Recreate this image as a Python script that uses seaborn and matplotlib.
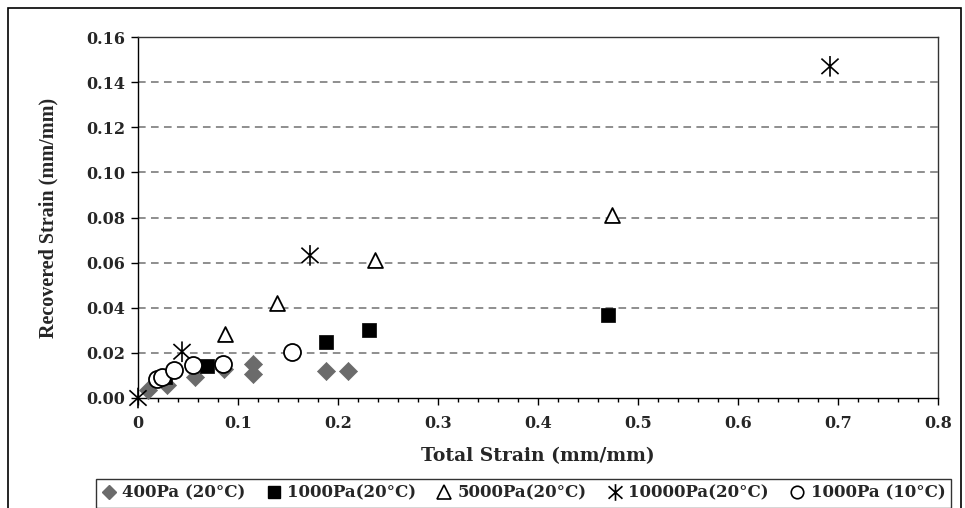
import numpy as np
import pandas as pd
import matplotlib
matplotlib.use("Agg")
import matplotlib.pyplot as plt
from matplotlib.path import Path
from matplotlib.patches import Rectangle
from matplotlib.lines import Line2D
import seaborn as sns

# ---- data ----
x_400 = [0.010, 0.029, 0.057, 0.086, 0.115, 0.115, 0.188, 0.210]
y_400 = [0.0035, 0.0058, 0.0093, 0.0129, 0.0151, 0.0106, 0.0120, 0.0120]

x_1000 = [0.027, 0.069, 0.188, 0.231, 0.470]
y_1000 = [0.0093, 0.0140, 0.0248, 0.0300, 0.0370]

x_5000 = [0.087, 0.139, 0.237, 0.474]
y_5000 = [0.0285, 0.0420, 0.0610, 0.0810]

x_10000 = [0.000, 0.044, 0.172, 0.692]
y_10000 = [0.000, 0.0205, 0.0632, 0.1470]

x_1000c = [0.019, 0.024, 0.036, 0.055, 0.085, 0.154]
y_1000c = [0.0084, 0.0093, 0.0124, 0.0146, 0.0151, 0.0204]

labels = ["400Pa (20°C)", "1000Pa(20°C)", "5000Pa(20°C)", "10000Pa(20°C)", "1000Pa (10°C)"]
x_ticks = [0, 0.1, 0.2, 0.3, 0.4, 0.5, 0.6, 0.7, 0.8]
x_ticklabels = ["0", "0.1", "0.2", "0.3", "0.4", "0.5", "0.6", "0.7", "0.8"]
y_ticks = [0.00, 0.02, 0.04, 0.06, 0.08, 0.10, 0.12, 0.14, 0.16]

sns.set_style("white")
plt.rcParams['font.family'] = ['DejaVu Serif', 'DejaVu Sans']
plt.rcParams['font.weight'] = 'bold'

# Excel-like star: X plus vertical line
star = Path([(-0.5, -0.45), (0.5, 0.45), (-0.5, 0.45), (0.5, -0.45), (0, -0.6), (0, 0.6)],
            [Path.MOVETO, Path.LINETO, Path.MOVETO, Path.LINETO, Path.MOVETO, Path.LINETO])

fig = plt.figure(figsize=(9.65, 5.08), dpi=100)
ax = fig.add_axes([138/965, 1 - 398/508, 800/965, 361/508])

frames = [
    (x_400, y_400, dict(marker="D", s=85, color="#6b6b6b", edgecolor="#6b6b6b", linewidth=0.5)),
    (x_1000, y_1000, dict(marker="s", s=90, color="black", edgecolor="black", linewidth=0.5)),
    (x_5000, y_5000, dict(marker="^", s=115, facecolor="white", edgecolor="black", linewidth=1.3)),
    (x_10000, y_10000, dict(marker=star, s=220, facecolor="none", edgecolor="black", linewidth=1.2)),
    (x_1000c, y_1000c, dict(marker="o", s=150, facecolor="white", edgecolor="black", linewidth=1.3)),
]
for i, (xs, ys, kw) in enumerate(frames):
    df = pd.DataFrame({"x": xs, "y": ys})
    sns.scatterplot(data=df, x="x", y="y", ax=ax, legend=False, zorder=3 + (1 if i == 4 else 0),
                    clip_on=False, **kw)

ax.set_xlim(0, 0.8)
ax.set_ylim(0, 0.16)
ax.set_xticks(x_ticks)
ax.set_xticklabels(x_ticklabels)
ax.set_yticks(y_ticks)
ax.set_yticklabels([f"{v:.2f}" for v in y_ticks])
ax.set_xticks(np.arange(0, 0.8001, 0.02), minor=True)
for yv in y_ticks[1:-1]:
    ax.axhline(yv, color="#707070", linestyle=(0, (5, 3.5)), linewidth=1.1, zorder=1)

for sp in ax.spines.values():
    sp.set_visible(True)
    sp.set_color("#333333")
    sp.set_linewidth(1.0)
ax.spines['bottom'].set_color("black")
ax.spines['left'].set_color("black")

ax.tick_params(axis='both', which='major', direction='out', length=5, width=1, color='black',
               labelsize=11.5, pad=4, bottom=True, left=True)
ax.tick_params(axis='x', which='minor', direction='out', length=3, width=1, color='black', bottom=True)
ax.tick_params(axis='x', which='major', pad=7)
for lab in ax.get_xticklabels() + ax.get_yticklabels():
    lab.set_fontweight('bold')

ax.set_xlabel("Total Strain (mm/mm)", fontsize=13.5, fontweight='bold', labelpad=11)
ax.set_ylabel("Recovered Strain (mm/mm)", fontsize=14.5, fontweight='bold', labelpad=20,
              family=['Liberation Serif', 'DejaVu Serif'])

# legend
handles = [
    Line2D([], [], linestyle='none', marker='D', markersize=7, color="#6b6b6b"),
    Line2D([], [], linestyle='none', marker='s', markersize=9, color="black"),
    Line2D([], [], linestyle='none', marker='^', markersize=10, markerfacecolor="white",
           markeredgecolor="black", markeredgewidth=1.2),
    Line2D([], [], linestyle='none', marker=star, markersize=12, color="black", markeredgewidth=1.2),
    Line2D([], [], linestyle='none', marker='o', markersize=9, markerfacecolor="white",
           markeredgecolor="black", markeredgewidth=1.2),
]
leg = fig.legend(handles, labels, loc='upper left', bbox_to_anchor=(96/965, 1 - 479/508), ncol=5,
                 frameon=True, fancybox=False, edgecolor='black', handlelength=0.8, handletextpad=0.4,
                 columnspacing=1.3, borderpad=0.35, borderaxespad=0,
                 prop={'family': 'DejaVu Serif', 'weight': 'bold', 'size': 12})
leg.get_frame().set_linewidth(1.0)

# outer frame
fig.patches.append(Rectangle((8/965, -0.05), (961-8)/965, 1.05 - 8/508, transform=fig.transFigure,
                             fill=False, edgecolor='black', linewidth=1.2, clip_on=False))

fig.savefig("out.png", dpi=100)
